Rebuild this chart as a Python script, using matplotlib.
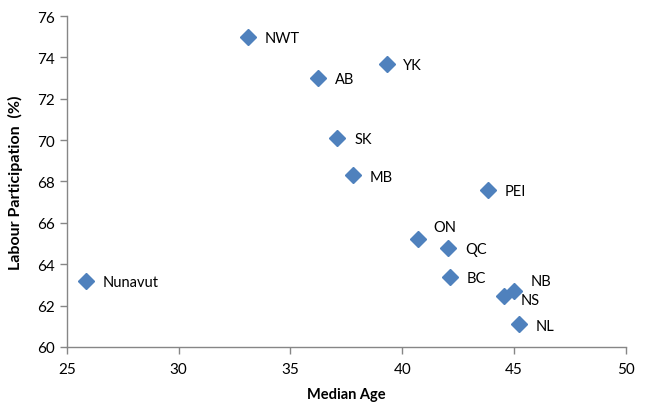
import matplotlib
matplotlib.use("Agg")
import matplotlib.pyplot as plt

regions = ["Nunavut", "NWT", "YK", "AB", "SK", "MB", "PEI", "ON", "QC", "BC", "NB", "NS", "NL"]
median_age = [25.85, 33.1, 39.3, 36.25, 37.1, 37.8, 43.85, 40.7, 42.05, 42.15, 45.0, 44.55, 45.2]
participation = [63.2, 75.0, 73.7, 73.0, 70.1, 68.3, 67.6, 65.2, 64.8, 63.4, 62.7, 62.45, 61.1]
x_ticks = [25, 30, 35, 40, 45, 50]
y_ticks = [60, 62, 64, 66, 68, 70, 72, 74, 76]

# label offsets in points (dx, dy)
offsets = {"ON": (11, 9), "NB": (12, 7), "NS": (12, -3)}

plt.rcParams['font.family'] = ['Lato', 'DejaVu Sans']

fig = plt.figure(figsize=(6.56, 4.06), dpi=100)
ax = fig.add_axes([0.102, 0.143, 0.852, 0.815])

ax.plot(median_age, participation, linestyle='none', marker='D', markersize=8,
        color='#4F81BD', markeredgecolor='#4F81BD')

for name, xv, yv in zip(regions, median_age, participation):
    dx, dy = offsets.get(name, (12, -1))
    ax.annotate(name, (xv, yv), xytext=(dx, dy), textcoords='offset points',
                ha='left', va='center', fontsize=10.5, color='#000000')

ax.set_xlim(25, 50)
ax.set_ylim(60, 76)
ax.set_xticks(x_ticks)
ax.set_yticks(y_ticks)
ax.tick_params(axis='both', labelsize=11, color='#868686', length=5, width=1, direction='out')
ax.tick_params(axis='x', pad=6)
for s in ['top', 'right']:
    ax.spines[s].set_visible(False)
for s in ['left', 'bottom']:
    ax.spines[s].set_color('#868686')
    ax.spines[s].set_linewidth(1)

ax.set_xlabel('Median Age', fontsize=10.5, fontweight='bold', labelpad=8)
ax.set_ylabel('Labour Participation  (%)', fontsize=11.5, fontweight='bold', labelpad=10)

fig.savefig('out.png', dpi=100)
